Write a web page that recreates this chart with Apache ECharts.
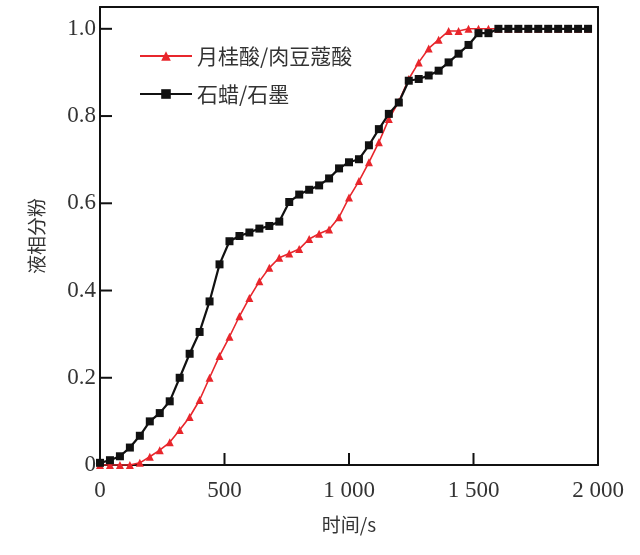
<!DOCTYPE html>
<html>
<head>
<meta charset="utf-8">
<script src="https://cdn.jsdelivr.net/npm/echarts@6/dist/echarts.min.js"></script>
<style>html,body{margin:0;padding:0;background:#fff;}#c{width:640px;height:555px;}</style>
</head>
<body>
<div id="c"></div>
<script>
const timeRed = [0,40,80,120,160,200,240,280,320,360,400,440,480,520,560,600,640,680,720,760,800,840,880,920,960,1000,1040,1080,1120,1160,1200,1240,1280,1320,1360,1400,1440,1480,1520,1560,1600,1640,1680,1720,1760,1800,1840,1880,1920,1960];
const valRed = [0,0,0,0,0.005,0.019,0.034,0.052,0.08,0.11,0.149,0.2,0.25,0.294,0.341,0.383,0.421,0.452,0.475,0.485,0.495,0.518,0.53,0.54,0.568,0.613,0.651,0.694,0.74,0.793,0.833,0.885,0.923,0.955,0.975,0.995,0.995,1,1,1,1,1,1,1,1,1,1,1,1,1];
const timeBlack = [0,40,80,120,160,200,240,280,320,360,400,440,480,520,560,600,640,680,720,760,800,840,880,920,960,1000,1040,1080,1120,1160,1200,1240,1280,1320,1360,1400,1440,1480,1520,1560,1600,1640,1680,1720,1760,1800,1840,1880,1920,1960];
const valBlack = [0.005,0.011,0.02,0.04,0.067,0.1,0.119,0.146,0.2,0.255,0.305,0.375,0.46,0.513,0.525,0.533,0.542,0.548,0.558,0.603,0.62,0.631,0.641,0.657,0.68,0.694,0.701,0.733,0.77,0.805,0.831,0.881,0.885,0.893,0.904,0.923,0.943,0.963,0.99,0.99,1,1,1,1,1,1,1,1,1,1];
const seriesNames = ['月桂酸/肉豆蔻酸','石蜡/石墨'];
const xTicks = [0,500,1000,1500,2000];
const yTicks = [0,0.2,0.4,0.6,0.8,1.0];

const chart = echarts.init(document.getElementById('c'));
const serif = '"Liberation Serif","DejaVu Serif",serif';
const cjk = '"Noto Sans CJK SC","Noto Sans",sans-serif';
const lineS = {show:true,onZero:false,lineStyle:{color:'#111',width:2}};
const TICK = 12;
function tickSeries(vals, isX){
  return {
    type:'custom',silent:true,clip:false,z:1,
    data:vals.map(v=>isX?[v,0]:[0,v]),
    renderItem:(params,api)=>{
      const p = api.coord([api.value(0),api.value(1)]);
      const s = isX?{x1:p[0],y1:p[1],x2:p[0],y2:p[1]-TICK}:{x1:p[0],y1:p[1],x2:p[0]+TICK,y2:p[1]};
      return {type:'line',shape:s,style:{stroke:'#111',lineWidth:2}};
    },
    tooltip:{show:false}
  };
}
chart.setOption({
  animation:false,
  backgroundColor:'#fff',
  grid:{left:100,right:42,top:7,bottom:90,show:false},
  legend:{
    orient:'vertical',left:134,top:40,itemWidth:52,itemHeight:12,itemGap:16,itemTextGap:3,
    textStyle:{fontFamily:cjk,fontSize:21,color:'#333',lineHeight:22},
    data:seriesNames
  },
  xAxis:[{
    type:'value',min:0,max:2000,interval:500,position:'bottom',
    name:'时间/s',nameLocation:'middle',nameGap:50,
    nameTextStyle:{fontFamily:cjk,fontSize:19,color:'#333'},
    axisLine:lineS,
    axisTick:{show:false},
    splitLine:{show:false},
    axisLabel:{show:true,margin:14,fontFamily:serif,fontSize:23,color:'#333',
      formatter:v=>xTicks.includes(v)?(v>=1000?String(v).replace(/(\d)(\d{3})$/,'$1 $2'):String(v)):''}
  },{
    type:'value',min:0,max:2000,interval:500,position:'top',
    axisLine:lineS,axisTick:{show:false},axisLabel:{show:false},splitLine:{show:false}
  }],
  yAxis:[{
    type:'value',min:0,max:1.05,interval:0.2,position:'left',
    name:'液相分粉',nameLocation:'middle',nameGap:54,nameRotate:90,
    nameTextStyle:{fontFamily:cjk,fontSize:19,color:'#333'},
    axisLine:lineS,
    axisTick:{show:false},
    splitLine:{show:false},
    axisLabel:{show:true,margin:4,fontFamily:serif,fontSize:23,color:'#333',showMaxLabel:false,
      formatter:v=>{const t=yTicks.find(y=>Math.abs(y-v)<1e-6);return t===undefined?'':(t===0?'0':t.toFixed(1));}}
  },{
    type:'value',min:0,max:1.05,interval:0.2,position:'right',
    axisLine:lineS,axisTick:{show:false},axisLabel:{show:false},splitLine:{show:false}
  }],
  series:[
    tickSeries(xTicks,true),
    tickSeries(yTicks,false),
    {name:seriesNames[0],type:'line',data:timeRed.map((t,i)=>[t,valRed[i]]),
      symbol:'triangle',symbolSize:8,showAllSymbol:true,
      lineStyle:{color:'#e8262c',width:1.6},itemStyle:{color:'#e8262c'},z:2},
    {name:seriesNames[1],type:'line',data:timeBlack.map((t,i)=>[t,valBlack[i]]),
      symbol:'rect',symbolSize:8,showAllSymbol:true,
      lineStyle:{color:'#111',width:2.2},itemStyle:{color:'#111'},z:3}
  ]
});
</script>
</body>
</html>
